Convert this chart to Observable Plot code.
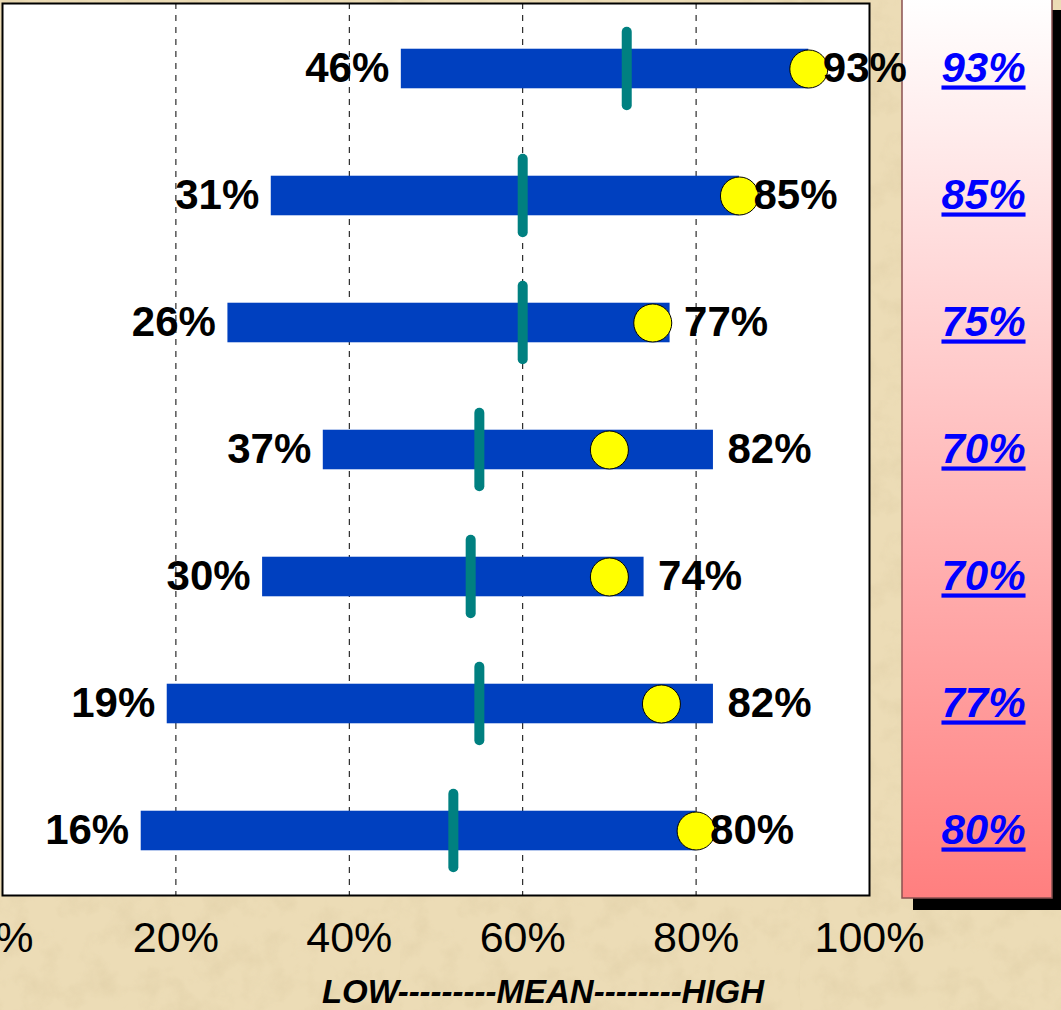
<!DOCTYPE html>
<html>
<head>
<meta charset="utf-8">
<script src="https://cdn.jsdelivr.net/npm/d3@7"></script>
<script src="https://cdn.jsdelivr.net/npm/@observablehq/plot@0.6"></script>
<style>
  html, body { margin: 0; padding: 0; }
  body {
    width: 1061px; height: 1010px; overflow: hidden;
    background-color: #ecdcb6;
    background-image: url("data:image/svg+xml,%3Csvg xmlns='http://www.w3.org/2000/svg' width='400' height='400'%3E%3Cfilter id='n'%3E%3CfeTurbulence type='fractalNoise' baseFrequency='0.035' numOctaves='4' seed='7'/%3E%3CfeColorMatrix values='0 0 0 0 0.7  0 0 0 0 0.58  0 0 0 0 0.35  0 0 0 0.9 -0.4'/%3E%3C/filter%3E%3Crect width='100%25' height='100%25' filter='url(%23n)'/%3E%3C/svg%3E");
  }
  #chart svg { display: block; }
  .panel-label text { text-decoration: underline; text-decoration-thickness: 5px; text-underline-offset: 5px; }
</style>
</head>
<body>
<div id="chart"></div>
<script>
// ---- data ----
const rows = ["1", "2", "3", "4", "5", "6", "7"];
const lows = [46, 31, 26, 37, 30, 19, 16];
const highs = [93, 85, 77, 82, 74, 82, 80];
const means = [72, 60, 60, 55, 54, 55, 52];
const scores = [93, 85, 75, 70, 70, 76, 80];
const panelValues = [93, 85, 75, 70, 70, 77, 80];
const xTicks = [0, 20, 40, 60, 80, 100];
const gridTicks = [20, 40, 60, 80];
const axisTitle = "LOW---------MEAN--------HIGH";

const table = rows.map((r, i) => ({
  row: r, low: lows[i], high: highs[i], mean: means[i], score: scores[i], panel: panelValues[i]
}));

const W = 1061, H = 1010;
const bandH = (895 - 3) / rows.length;
const barInset = (bandH - 40) / 2;
const tickInset = bandH / 2 - 37;

// Right-hand panel (shaded box with drop shadow)
function panelMark(index, scales, values, dimensions) {
  const g = d3.create("svg:g");
  const defs = g.append("defs");
  const grad = defs.append("linearGradient").attr("id", "panelGrad")
    .attr("x1", 0).attr("y1", 0).attr("x2", 0).attr("y2", 1);
  grad.append("stop").attr("offset", "0%").attr("stop-color", "#ffffff");
  grad.append("stop").attr("offset", "100%").attr("stop-color", "#ff7f7f");
  const x0 = dimensions.width - dimensions.marginRight + 33;
  g.append("rect").attr("x", x0 + 11).attr("y", 10).attr("width", 160).attr("height", 900).attr("fill", "#000");
  g.append("rect").attr("x", x0).attr("y", -2).attr("width", 150).attr("height", 900)
    .attr("fill", "url(#panelGrad)").attr("stroke", "#8a5050").attr("stroke-width", 1.5);
  return g.node();
}

const plot = Plot.plot({
  width: W,
  height: H,
  marginLeft: 2,
  marginRight: W - 869,
  marginTop: 3,
  marginBottom: H - 895,
  style: { fontFamily: "Arial, 'Liberation Sans', sans-serif", background: "transparent", overflow: "visible" },
  x: { domain: [0, 100], axis: null },
  y: { domain: rows, axis: null, padding: 0 },
  marks: [
    panelMark,
    Plot.frame({ fill: "white" }),
    Plot.ruleX(gridTicks, { x: d => d, stroke: "#000", strokeWidth: 1, strokeDasharray: "6,6" }),
    Plot.barX(table, { y: "row", x1: "low", x2: "high", fill: "#0040bf", insetTop: barInset, insetBottom: barInset }),
    Plot.tickX(table, { y: "row", x: "mean", stroke: "#008080", strokeWidth: 10, strokeLinecap: "round", insetTop: tickInset, insetBottom: tickInset }),
    Plot.dot(table, { y: "row", x: "score", r: 19, fill: "#ffff00", stroke: "#000", strokeWidth: 1 }),
    Plot.frame({ stroke: "#000", strokeWidth: 2 }),
    Plot.text(table, { y: "row", x: "low", text: d => d.low + "%", textAnchor: "end", dx: -12, fontSize: 42, fontWeight: "bold", fill: "#000" }),
    Plot.text(table, { y: "row", x: "high", text: d => d.high + "%", textAnchor: "start", dx: 14, fontSize: 42, fontWeight: "bold", fill: "#000" }),
    Plot.text(table, { y: "row", frameAnchor: "right", dx: 114, textAnchor: "middle", lineAnchor: "middle", text: d => d.panel + "%", fontSize: 42, fontWeight: "bold", fontStyle: "italic", fill: "#0000ff", className: "panel-label" }),
    Plot.text(xTicks, { x: d => d, frameAnchor: "bottom", lineAnchor: "middle", dy: 43, text: d => d + "%", fontSize: 43, fill: "#000" }),
    Plot.text([axisTitle], { frameAnchor: "bottom", lineAnchor: "middle", textAnchor: "middle", dx: 107, dy: 97, text: d => d, fontSize: 33, fontWeight: "bold", fontStyle: "italic", fill: "#000" })
  ]
});

document.getElementById("chart").append(plot);
// ensure underline class is on the panel labels even if className option is unsupported
d3.select(plot).selectAll("g").filter(function () {
  return this.getAttribute("fill") === "#0000ff" && this.getAttribute("font-style") === "italic";
}).classed("panel-label", true);
</script>
</body>
</html>
